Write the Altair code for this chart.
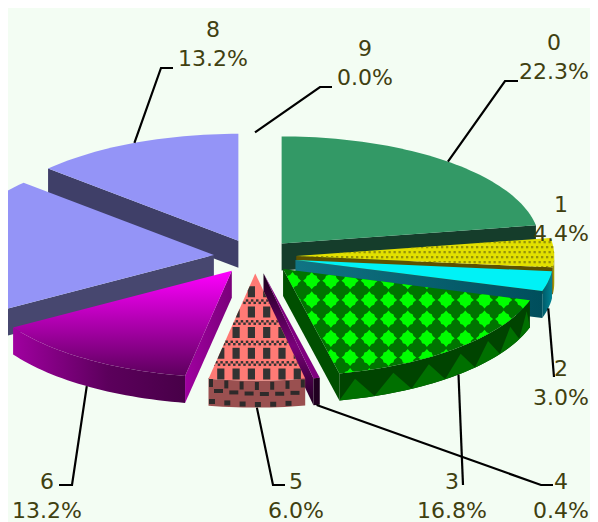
import math
import altair as alt

# ---- chart values ----
slice_names = ["0", "1", "2", "3", "4", "5", "6", "7", "8", "9"]
percent_values = [22.3, 4.4, 3.0, 16.8, 0.4, 6.0, 13.2, 20.7, 13.2, 0.0]
top_colors = ["#339966", "#e2e000", "#00f2f6", "#007400", "#800080", "#ff7a75", "#ff00ff", "#9494f7", "#9494f7", "#9494f7"]

# ---- label layout (page pixels): elbow, stub end, label centre ----
label_layout = {
    "0": ((505, 81), (518, 81), (554, 43)),
    "1": (None, None, (561, 205)),
    "2": ((554, 377), (554, 377), (561, 369)),
    "3": ((463, 485), (463, 485), (452, 482)),
    "4": ((541, 485), (553, 485), (561, 482)),
    "5": ((273, 485), (285, 485), (296, 482)),
    "6": ((72, 485), (59, 485), (47, 482)),
    "8": ((161, 68), (173, 68), (213, 30)),
    "9": ((320, 87), (332, 87), (365, 49)),
}
LINE_GAP = 29.0

# ---- pie geometry ----
CX, CY = 255.0, 256.5
RX, RY = 258.0, 107.0
EXPLODE = 0.16
THICK = 27.0
BG = "#f3fdf3"
PROJ = dict(type="identity")
PAGE = [(8, 8), (590, 8), (590, 522), (8, 522)]


def rim(a, c=(0, 0), r=1.0):
    t = math.radians(a)
    return (c[0] + r * RX * math.sin(t), c[1] - r * RY * math.cos(t))


starts = {}
acc = 0.0
for n, v in zip(slice_names, percent_values):
    a1, a2 = acc * 3.6, (acc + v) * 3.6
    acc += v
    starts[n] = (a1, a2, rim((a1 + a2) / 2, (CX, CY), EXPLODE))


def down(p, d=THICK):
    return (p[0], p[1] + d)


def clip_convex(poly, clipper):
    area = sum(clipper[i][0] * clipper[(i + 1) % len(clipper)][1] - clipper[(i + 1) % len(clipper)][0] * clipper[i][1]
               for i in range(len(clipper)))
    sign = 1 if area > 0 else -1
    out = poly
    for i in range(len(clipper)):
        ax, ay = clipper[i]
        bx, by = clipper[(i + 1) % len(clipper)]
        def side_val(p):
            return sign * ((bx - ax) * (p[1] - ay) - (by - ay) * (p[0] - ax))
        res = []
        for j in range(len(out)):
            p, q = out[j], out[(j + 1) % len(out)]
            dp, dq = side_val(p), side_val(q)
            if dp >= 0:
                res.append(p)
            if (dp >= 0) != (dq >= 0):
                t = dp / (dp - dq)
                res.append((p[0] + t * (q[0] - p[0]), p[1] + t * (q[1] - p[1])))
        out = res
        if not out:
            return []
    return out


def feat(points, fill):
    points = clip_convex(points, PAGE)
    if len(points) < 3:
        return None
    ring = [[round(x, 2), round(y, 2)] for x, y in points]
    ring.append(ring[0])
    return {"type": "Feature", "properties": {"fill": fill},
            "geometry": {"type": "Polygon", "coordinates": [ring]}}


def arc_pts(a1, a2, c, step=1.5):
    n = max(2, int(abs(a2 - a1) / step) + 1)
    return [rim(a1 + (a2 - a1) * i / (n - 1), c) for i in range(n)]


def sector(name):
    a1, a2, c = starts[name]
    return [c] + arc_pts(a1, a2, c)


def side(name, lo=None, hi=None):
    a1, a2, c = starts[name]
    lo = max(a1, 90) if lo is None else lo
    hi = min(a2, 270) if hi is None else hi
    top = arc_pts(lo, hi, c)
    return top + [down(p) for p in reversed(top)]


def cut(name, angle):
    c = starts[name][2]
    e = rim(angle, c)
    return [c, e, down(e), down(c)]


def rect(x, y, w, h):
    return [(x, y), (x + w, y), (x + w, y + h), (x, y + h)]


def clipped(shape, clipper, fill):
    res = clip_convex(shape, clipper)
    return [feat(res, fill)] if len(res) >= 3 else []


def grad(stops, horizontal):
    return alt.LinearGradient(
        gradient="linear",
        stops=[alt.GradientStop(color=c, offset=o) for c, o in stops],
        x1=0, y1=0, x2=1 if horizontal else 0, y2=0 if horizontal else 1,
    )


layers = []


def flat(features):
    features = [f for f in features if f]
    if features:
        layers.append(
            alt.Chart(alt.Data(values=features)).mark_geoshape(strokeWidth=0)
            .encode(fill=alt.Color("properties.fill:N", scale=None, legend=None))
            .project(**PROJ)
        )


def shaded(points, stops, horizontal=True):
    layers.append(
        alt.Chart(alt.Data(values=[feat(points, "none")]))
        .mark_geoshape(strokeWidth=0, fill=grad(stops, horizontal))
        .project(**PROJ)
    )


# invisible frame: makes the identity projection map page pixels 1:1 onto the plot area
layers.append(
    alt.Chart(alt.Data(values=[{"type": "Feature", "properties": {},
                                "geometry": {"type": "LineString", "coordinates": [[8, 8], [590, 522]]}}]))
    .mark_geoshape(filled=False, stroke=BG, strokeOpacity=0, strokeWidth=0)
    .project(**PROJ)
)

# slice 8
flat([feat(cut("8", starts["8"][0]), "#3f3f68"), feat(sector("8"), top_colors[8])])
# slice 7
flat([feat(side("7"), "#3d3d66"), feat(cut("7", starts["7"][0]), "#47476f"), feat(sector("7"), top_colors[7])])
# slice 6
shaded(cut("6", starts["6"][0]), [("#a000a0", 0), ("#7a007a", 1)])
shaded(side("6"), [("#a000a0", 0), ("#5c005c", 0.55), ("#480048", 1)])
shaded(sector("6"), [("#ff00ff", 0), ("#5c005c", 1)], horizontal=False)

# slice 0
flat([feat(cut("0", starts["0"][1]), "#153d2b"), feat(sector("0"), top_colors[0])])

# slice 1
f1 = [feat(side("1"), "#a09a00"), feat(cut("1", starts["1"][1]), "#5c5200")]
sec1 = sector("1")
f1.append(feat(sec1, top_colors[1]))
row = 0
yy = 236.0
while yy < 270:
    xx = 296.0 + (2.5 if row % 2 else 0)
    while xx < 556:
        f1 += clipped(rect(xx, yy, 2.3, 2.3), sec1, "#96930a")
        xx += 5.0
    yy += 5.0
    row += 1
flat(f1)

# slice 2
shaded(cut("2", starts["2"][1]), [("#107484", 0), ("#004e5c", 1)])
shaded(side("2"), [("#005a68", 0), ("#008494", 1)])
flat([feat(sector("2"), top_colors[2])])

# slice 3
f3 = [feat(side("3"), "#004400"), feat(cut("3", starts["3"][1]), "#004f00")]
c3 = starts["3"][2]
peak = 163.8
while peak > 106.9:
    lo, hi = max(peak - 4.6, starts["3"][0]), min(peak + 4.6, starts["3"][1])
    f3.append(feat([down(p) for p in arc_pts(lo, hi, c3)] + [down(rim(peak, c3), 7)], "#007000"))
    peak -= 9.1
sec3 = sector("3")
f3.append(feat(sec3, top_colors[3]))
yy = 280.7 - 19.2
while yy < 385:
    xx = 311.7 - 3 * 19.2
    while xx < 545:
        star = []
        for k in range(16):
            ang = math.radians(k * 22.5)
            r = 8.6 if k % 4 == 0 else (6.2 if k % 2 == 1 else 6.9)
            star.append((xx + r * math.cos(ang), yy + r * math.sin(ang)))
        f3 += clipped(star, sec3, "#00ff00")
        xx += 19.2
    yy += 19.2
flat(f3)

# slice 4
shaded(cut("4", starts["4"][1]), [("#1a001a", 0), ("#7a007a", 0.55), ("#200020", 1)], horizontal=False)
flat([feat(side("4"), "#200020"), feat(sector("4"), top_colors[4])])

# slice 5
f5 = [feat(side("5"), "#9a5050")]
xx = 209.0
while xx < 306:
    fr = (xx - 209.0) / 97.0
    rim_y = 378 + 3 * math.sin(math.pi * fr)
    for off, w, h, shift in ((1, 4, 8, 0), (11, 9, 4, 5), (21, 6, 5, 0)):
        x0 = xx + shift
        if x0 + w < 306:
            f5.append(feat(rect(x0, rim_y + off, w, h), "#2e2a2a"))
    xx += 15.3
sec5 = sector("5")
f5.append(feat(sec5, top_colors[5]))
for yc in (291.7, 312, 332.5, 353.3, 374):
    xx = 205.5
    while xx < 310:
        f5 += clipped(rect(xx - 3.6, yc - 5.5, 7.2, 11), sec5, "#333333")
        xx += 15.3
for yb in (301.7, 322.5, 343, 363.5):
    for r in range(2):
        xx = 205.0 + r * 2.55
        while xx < 310:
            f5 += clipped(rect(xx, yb - 2.4 + r * 2.4, 2.5, 2.4), sec5, "#333333")
            xx += 5.1
flat(f5)

# leader lines and labels
line_feats = []
text_rows = []
for n, v in zip(slice_names, percent_values):
    if n not in label_layout:
        continue
    elbow, stub, centre = label_layout[n]
    text_rows.append({"lon": centre[0], "lat": centre[1], "t": n})
    text_rows.append({"lon": centre[0], "lat": centre[1] + LINE_GAP, "t": f"{v:.1f}%"})
    if elbow is None:
        continue
    a1, a2, c = starts[n]
    mid = (a1 + a2) / 2
    s = rim(mid, c)
    if 90 < mid < 270:
        s = down(s)
    line_feats.append({"type": "Feature", "properties": {},
                       "geometry": {"type": "LineString", "coordinates": [list(s), list(elbow), list(stub)]}})

layers.append(
    alt.Chart(alt.Data(values=line_feats))
    .mark_geoshape(filled=False, stroke="#000000", strokeWidth=2.2, strokeJoin="miter")
    .project(**PROJ)
)
layers.append(
    alt.Chart(alt.Data(values=text_rows))
    .mark_text(font="DejaVu Sans", fontSize=22, color="#404010", align="center", baseline="middle")
    .encode(longitude="lon:Q", latitude="lat:Q", text="t:N")
    .project(**PROJ)
)

chart = alt.layer(*layers).properties(
    width=582, height=514, background=BG, padding=0,
    autosize=alt.AutoSizeParams(type="none"),
).configure_view(stroke=None)

chart.save("out.html", embed_options={"renderer": "svg", "actions": False})
